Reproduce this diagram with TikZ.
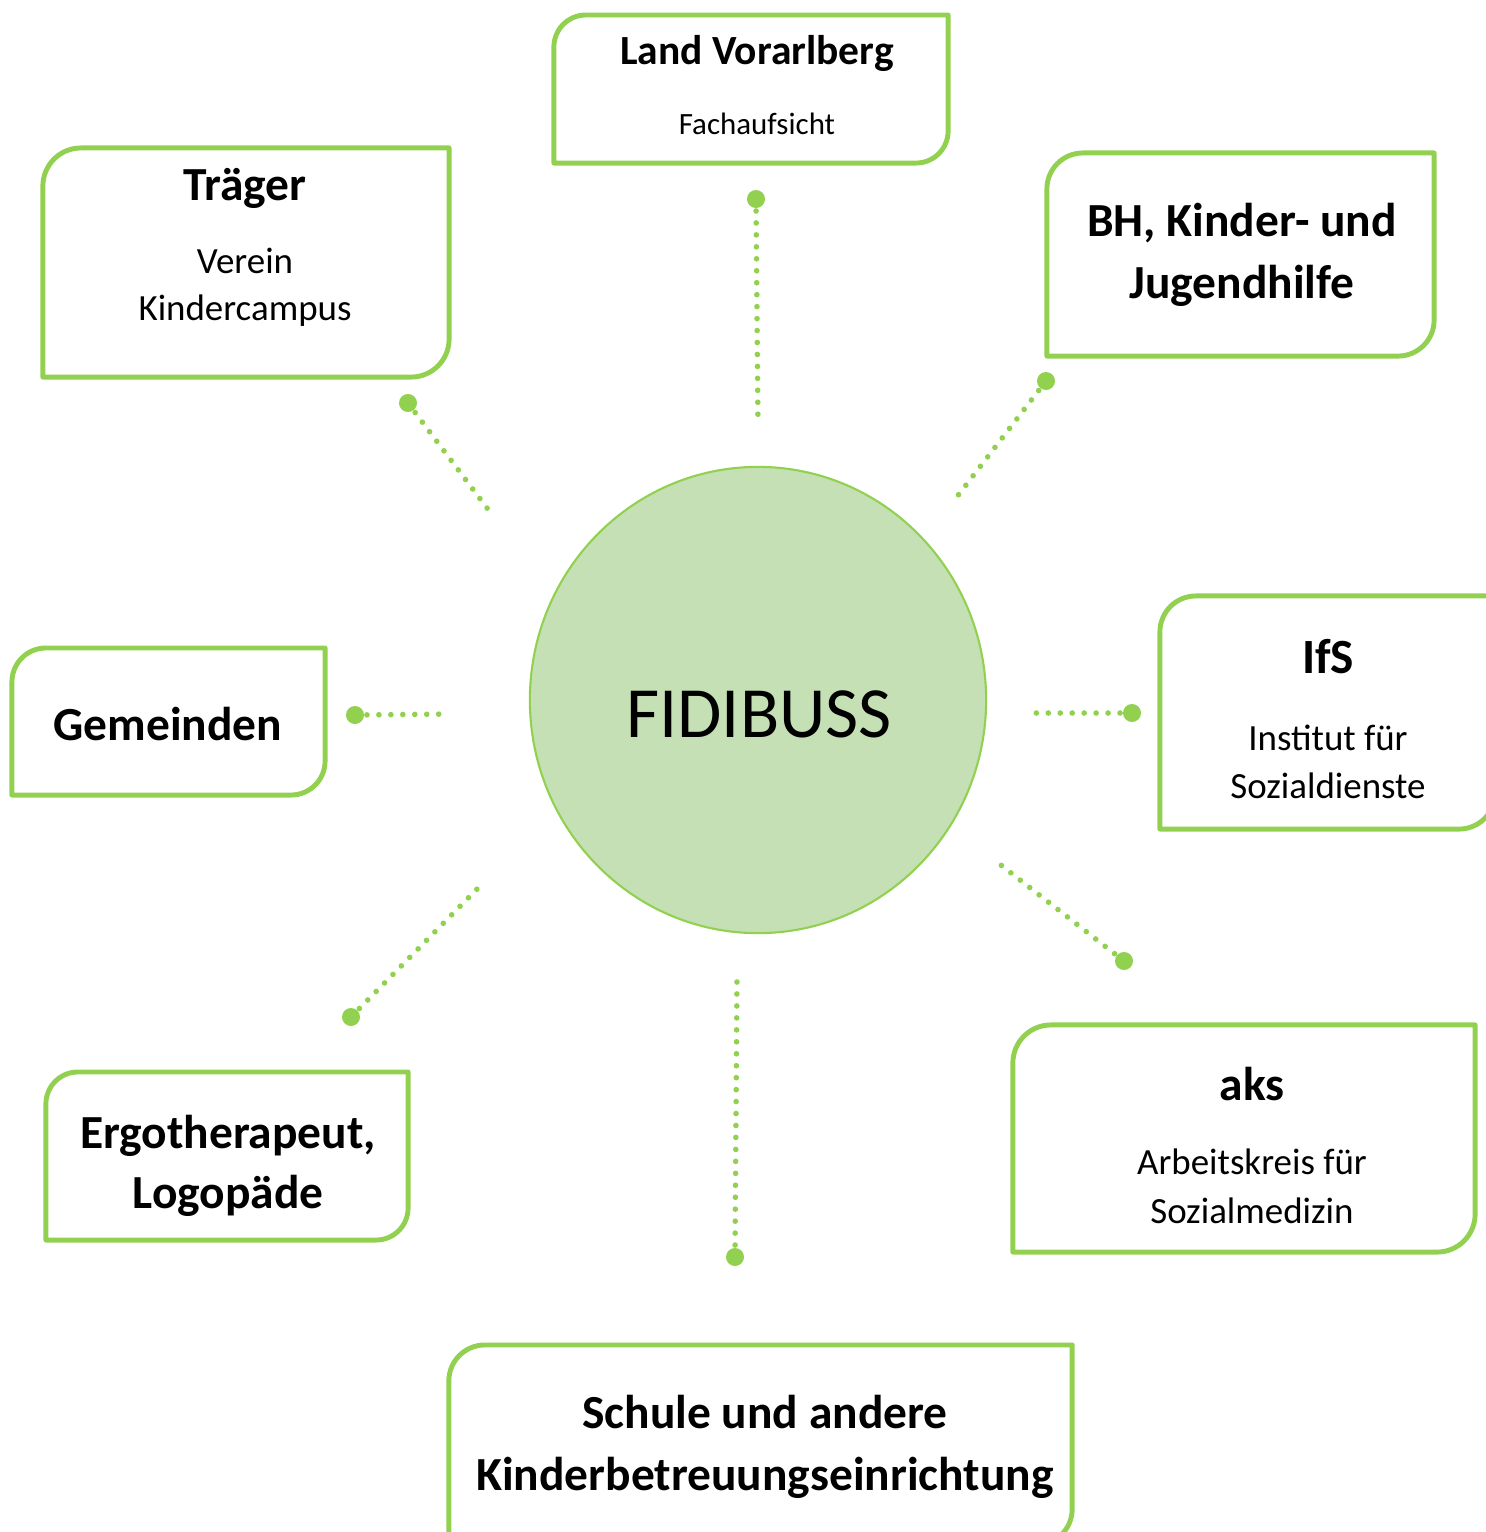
\documentclass[tikz,border=0pt]{standalone}
\usepackage{fontspec}
\setmainfont{Carlito}
\usetikzlibrary{shapes.geometric}
\definecolor{leaf}{HTML}{92D050}
\definecolor{pale}{HTML}{C5E0B4}
% frame with rounded top-left and bottom-right corners
\newcommand{\greenframe}[2]{%
  \draw[frame] (#1.south west) -- ([yshift=-#2]#1.north west)
    arc[start angle=180, end angle=90, radius=#2] -- (#1.north east)
    -- ([yshift=#2]#1.south east)
    arc[start angle=0, end angle=-90, radius=#2] -- cycle;}
\begin{document}
\begin{tikzpicture}[x=0.01cm, y=-0.01cm,
    frame/.style={draw=leaf, line width=1.4pt, line join=round},
    box/.style={inner sep=0pt, outer sep=0pt},
    head/.style={anchor=base, inner sep=0pt, font=\bfseries\fontsize{13.5}{16}\selectfont},
    sub/.style={anchor=base, inner sep=0pt, font=\fontsize{10.5}{13}\selectfont},
    bigdot/.style={circle, fill=leaf, inner sep=0pt, minimum size=0.18cm},
    link/.style={draw=leaf, line width=1.6pt, line cap=round, dash pattern=on 0pt off 3.4pt}]
  \clip (0,0) rectangle (1486,1532);

  % centre
  \node[ellipse, draw=leaf, fill=pale, line width=0.6pt, minimum width=4.56cm,
        minimum height=4.66cm, inner sep=0pt] (hub) at (758,700) {};
  \node[anchor=base, inner sep=0pt, font=\fontsize{20.5}{24}\selectfont] (hub-text) at (759,737) {FIDIBUSS};

  % boxes
  \node[box, minimum width=3.94cm, minimum height=1.48cm] (land) at (751,89) {};
  \node[box, minimum width=4.06cm, minimum height=2.29cm] (traeger) at (246,262.5) {};
  \node[box, minimum width=3.87cm, minimum height=2.03cm] (bh) at (1240.5,254.5) {};
  \node[box, minimum width=3.13cm, minimum height=1.47cm] (gemeinden) at (168.5,721.5) {};
  \node[box, minimum width=3.35cm, minimum height=2.33cm] (ifs) at (1327.5,712.5) {};
  \node[box, minimum width=4.62cm, minimum height=2.27cm] (aks) at (1244,1138.5) {};
  \node[box, minimum width=3.62cm, minimum height=1.68cm] (ergo) at (227,1156) {};
  \node[box, minimum width=6.23cm, minimum height=2.00cm] (schule) at (760.5,1445) {};
  \foreach \n/\r in {land/0.32cm, traeger/0.38cm, bh/0.36cm, gemeinden/0.34cm,
      ifs/0.36cm, aks/0.38cm, ergo/0.32cm, schule/0.36cm}
    \greenframe{\n}{\r};

  % texts
  \node[head, font=\bfseries\fontsize{11.8}{14}\selectfont] (land-head) at (757,64) {Land Vorarlberg};
  \node[sub, font=\fontsize{8.8}{11}\selectfont] (land-sub) at (757,134) {Fachaufsicht};
  \node[head] (traeger-head) at (245,200) {Träger};
  \node[sub] (traeger-sub1) at (245,273) {Verein};
  \node[sub] (traeger-sub2) at (245,320) {Kindercampus};
  \node[head] (bh-head1) at (1242,236) {BH, Kinder- und};
  \node[head] (bh-head2) at (1242,298) {Jugendhilfe};
  \node[head] (gemeinden-head) at (168,740) {Gemeinden};
  \node[head, font=\bfseries\fontsize{14}{17}\selectfont] (ifs-head) at (1328,673) {IfS};
  \node[sub] (ifs-sub1) at (1328,750) {Institut für};
  \node[sub] (ifs-sub2) at (1328,798) {Sozialdienste};
  \node[head] (aks-head) at (1252,1100) {aks};
  \node[sub] (aks-sub1) at (1252,1174) {Arbeitskreis für};
  \node[sub] (aks-sub2) at (1252,1223) {Sozialmedizin};
  \node[head] (ergo-head1) at (228,1148) {Ergotherapeut,};
  \node[head] (ergo-head2) at (228,1208) {Logopäde};
  \node[head] (schule-head1) at (765,1428) {Schule und andere};
  \node[head] (schule-head2) at (765,1490) {Kinderbetreuungseinrichtung};

  % dotted links
  \node[bigdot] (land-dot) at (756,199) {};
  \node[bigdot] (traeger-dot) at (408,403) {};
  \node[bigdot] (bh-dot) at (1046,381) {};
  \node[bigdot] (gemeinden-dot) at (355,715) {};
  \node[bigdot] (ifs-dot) at (1132,713) {};
  \node[bigdot] (aks-dot) at (1124,961) {};
  \node[bigdot] (ergo-dot) at (351,1017) {};
  \node[bigdot] (schule-dot) at (735,1257) {};
  \coordinate (land-end) at (758,425);
  \coordinate (traeger-end) at (490,512);
  \coordinate (bh-end) at (956,498);
  \coordinate (gemeinden-end) at (450,714);
  \coordinate (ifs-end) at (1033,713);
  \coordinate (aks-end) at (997,862);
  \coordinate (ergo-end) at (480,886);
  \coordinate (schule-end) at (737,977);
  \foreach \n in {land, traeger, bh, gemeinden, ifs, aks, ergo, schule}
    \draw[link] (\n-dot.center) -- (\n-end);
\end{tikzpicture}
\end{document}
